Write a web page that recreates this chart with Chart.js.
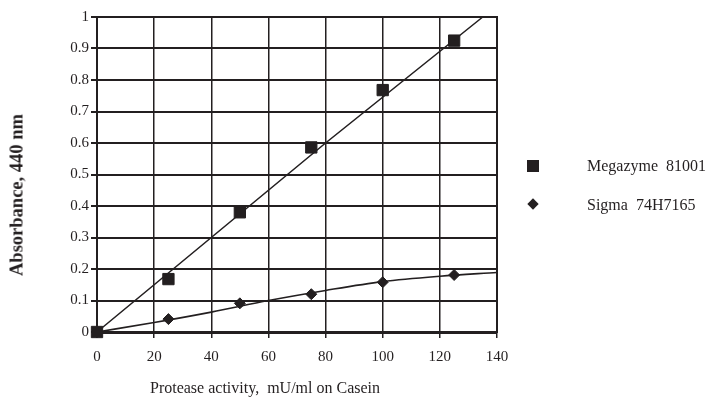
<!DOCTYPE html>
<html>
<head>
<meta charset="utf-8">
<script src="https://cdn.jsdelivr.net/npm/chart.js@4/dist/chart.umd.min.js"></script>
<style>
  html, body { margin: 0; padding: 0; background: #fff; }
  #wrap { position: relative; width: 714px; height: 398px; }
  #c { position: absolute; left: 0; top: 0; }
  .txt { position: absolute; font-family: "Liberation Serif", "DejaVu Serif", serif; color: #231f20; white-space: nowrap; }
  #ytitle { left: 17px; top: 195px; font-size: 18.5px; font-weight: bold; transform: translate(-50%, -50%) rotate(-90deg); }
  #xtitle { left: 265px; top: 388px; font-size: 16px; transform: translate(-50%, -50%); }
  .leg { font-size: 16px; transform: translateY(-50%); }
  .sq { position: absolute; width: 12px; height: 12px; background: #231f20; transform: translate(-50%, -50%); }
  .dm { position: absolute; width: 8px; height: 8px; background: #231f20; transform: translate(-50%, -50%) rotate(45deg); }
</style>
</head>
<body>
<div id="wrap">
  <canvas id="c" width="714" height="398"></canvas>
  <div id="ytitle" class="txt">Absorbance, 440 nm</div>
  <div id="xtitle" class="txt">Protease activity,&nbsp; mU/ml on Casein</div>
  <div class="sq" style="left:533px; top:166px;"></div>
  <div class="txt leg" style="left:587px; top:166px;">Megazyme&nbsp; 81001</div>
  <div class="dm" style="left:533px; top:204px;"></div>
  <div class="txt leg" style="left:587px; top:205px;">Sigma&nbsp; 74H7165</div>
</div>
<script>
// ---- data ----
const seriesNames = ["Megazyme 81001", "Sigma 74H7165"];
const activity = [0, 25, 50, 75, 100, 125];
const megazyme = [0, 0.168, 0.38, 0.586, 0.768, 0.925];
const sigma = [0, 0.041, 0.091, 0.12, 0.158, 0.181];
// fitted trend curves as drawn in the reference
const megaFitX = [0, 80, 135];
const megaFitY = [0, 0.6, 1.0];
const sigmaFitX = [0, 20, 40, 60, 80, 100, 120, 140];
const sigmaFitY = [0, 0.03, 0.063, 0.1, 0.132, 0.16, 0.177, 0.189];
const xTicks = [0, 20, 40, 60, 80, 100, 120, 140];
const yTicks = [0, 0.1, 0.2, 0.3, 0.4, 0.5, 0.6, 0.7, 0.8, 0.9, 1];
const yTickLabels = ["0", "0.1", "0.2", "0.3", "0.4", "0.5", "0.6", "0.7", "0.8", "0.9", "1"];

const ink = '#231f20';
const toPts = (xs, ys) => xs.map((x, i) => ({ x: x, y: ys[i] }));

new Chart(document.getElementById('c'), {
  type: 'scatter',
  data: {
    datasets: [
      { label: seriesNames[0] + ' fit', data: toPts(megaFitX, megaFitY), showLine: true,
        borderColor: ink, borderWidth: 1.6, pointRadius: 0, tension: 0, clip: 3 },
      { label: seriesNames[1] + ' fit', data: toPts(sigmaFitX, sigmaFitY), showLine: true,
        borderColor: ink, borderWidth: 1.6, pointRadius: 0, cubicInterpolationMode: 'monotone', clip: 3 },
      { label: seriesNames[0], data: toPts(activity, megazyme), showLine: false,
        pointStyle: 'rect', pointRadius: 8, backgroundColor: ink, borderColor: ink, borderWidth: 1, clip: false },
      { label: seriesNames[1], data: toPts(activity, sigma), showLine: false,
        pointStyle: 'rectRot', pointRadius: 5.5, backgroundColor: ink, borderColor: ink, borderWidth: 1, clip: false }
    ]
  },
  options: {
    responsive: false,
    animation: false,
    layout: { padding: { top: 17, right: 217, left: 0, bottom: 0 } },
    plugins: { legend: { display: false }, tooltip: { enabled: false } },
    scales: {
      x: {
        type: 'linear', min: 0, max: 140,
        afterBuildTicks: (s) => { s.ticks = xTicks.map(v => ({ value: v })); },
        afterFit: (s) => { s.height = 66; },
        grid: { color: ink, lineWidth: 1.5, tickLength: 6, tickColor: ink },
        border: { color: ink, width: 3 },
        ticks: { color: ink, padding: 10, font: { family: 'Liberation Serif', size: 15 } }
      },
      y: {
        type: 'linear', min: 0, max: 1,
        afterBuildTicks: (s) => { s.ticks = yTicks.map(v => ({ value: v })); },
        afterFit: (s) => { s.width = 97; },
        grid: { color: ink, lineWidth: 2, tickLength: 6, tickColor: ink },
        border: { color: ink, width: 2 },
        ticks: { color: ink, padding: 2, font: { family: 'Liberation Serif', size: 15 },
          callback: (v, i) => yTickLabels[i] }
      }
    }
  },
  plugins: [{
    id: 'frame',
    afterDraw(chart) {
      const a = chart.chartArea, ctx = chart.ctx;
      ctx.save();
      ctx.strokeStyle = ink;
      ctx.lineWidth = 2;
      ctx.strokeRect(a.left, a.top, a.right - a.left, a.bottom - a.top);
      ctx.restore();
    }
  }]
});
</script>
</body>
</html>
